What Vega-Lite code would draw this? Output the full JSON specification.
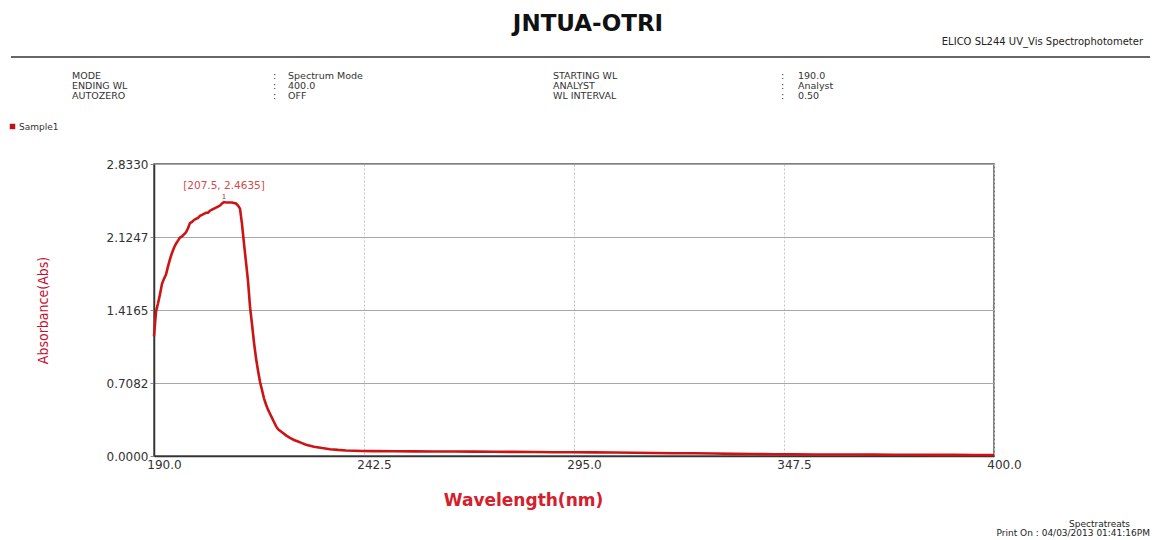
{
  "$schema": "https://vega.github.io/schema/vega-lite/v6.json",
  "autosize": {"type": "none"},
  "padding": {"left": 154, "top": 164, "right": 164, "bottom": 84},
  "width": 840,
  "height": 292,
  "background": "white",
  "title": {
    "text": "JNTUA-OTRI",
    "font": "DejaVu Sans",
    "fontSize": 23,
    "fontWeight": "bold",
    "color": "#111111",
    "anchor": "middle",
    "dx": 14,
    "dy": 3
  },
  "config": {
    "view": {"stroke": "#555555", "strokeWidth": 1.5},
    "axis": {"labelFont": "DejaVu Sans", "titleFont": "DejaVu Sans"}
  },
  "datasets": {
    "spectrum": [
      {"wl": 190, "abs": 1.16}, {"wl": 190.5, "abs": 1.40}, {"wl": 191, "abs": 1.48}, {"wl": 191.5, "abs": 1.57},
      {"wl": 192, "abs": 1.67}, {"wl": 192.5, "abs": 1.72}, {"wl": 193, "abs": 1.76}, {"wl": 193.5, "abs": 1.84},
      {"wl": 194, "abs": 1.91}, {"wl": 194.5, "abs": 1.97}, {"wl": 195, "abs": 2.02}, {"wl": 195.5, "abs": 2.06},
      {"wl": 196, "abs": 2.09}, {"wl": 196.5, "abs": 2.12}, {"wl": 197, "abs": 2.13}, {"wl": 197.5, "abs": 2.15},
      {"wl": 198, "abs": 2.17}, {"wl": 198.5, "abs": 2.21}, {"wl": 199, "abs": 2.26}, {"wl": 199.5, "abs": 2.27},
      {"wl": 200, "abs": 2.29}, {"wl": 200.5, "abs": 2.30}, {"wl": 201, "abs": 2.31}, {"wl": 201.5, "abs": 2.33},
      {"wl": 202, "abs": 2.34}, {"wl": 202.5, "abs": 2.35}, {"wl": 203, "abs": 2.36}, {"wl": 203.5, "abs": 2.36},
      {"wl": 204, "abs": 2.38}, {"wl": 204.5, "abs": 2.39}, {"wl": 205, "abs": 2.40}, {"wl": 205.5, "abs": 2.41},
      {"wl": 206, "abs": 2.42}, {"wl": 206.5, "abs": 2.43}, {"wl": 207, "abs": 2.45}, {"wl": 207.5, "abs": 2.4635},
      {"wl": 208, "abs": 2.46}, {"wl": 208.5, "abs": 2.46}, {"wl": 209, "abs": 2.46}, {"wl": 209.5, "abs": 2.46},
      {"wl": 210, "abs": 2.455}, {"wl": 210.5, "abs": 2.45}, {"wl": 211, "abs": 2.43}, {"wl": 211.5, "abs": 2.40},
      {"wl": 212, "abs": 2.25}, {"wl": 212.5, "abs": 2.06}, {"wl": 213, "abs": 1.88}, {"wl": 213.5, "abs": 1.70},
      {"wl": 214, "abs": 1.45}, {"wl": 214.5, "abs": 1.28}, {"wl": 215, "abs": 1.10}, {"wl": 215.5, "abs": 0.95},
      {"wl": 216, "abs": 0.83}, {"wl": 216.5, "abs": 0.72}, {"wl": 217, "abs": 0.64}, {"wl": 217.5, "abs": 0.56},
      {"wl": 218, "abs": 0.50}, {"wl": 218.5, "abs": 0.45}, {"wl": 219, "abs": 0.41}, {"wl": 219.5, "abs": 0.37},
      {"wl": 220, "abs": 0.33}, {"wl": 220.5, "abs": 0.29}, {"wl": 221, "abs": 0.26}, {"wl": 222, "abs": 0.23},
      {"wl": 223, "abs": 0.20}, {"wl": 224, "abs": 0.175}, {"wl": 225, "abs": 0.155}, {"wl": 226, "abs": 0.14},
      {"wl": 227, "abs": 0.125}, {"wl": 228, "abs": 0.11}, {"wl": 230, "abs": 0.09}, {"wl": 232, "abs": 0.077},
      {"wl": 234, "abs": 0.066}, {"wl": 236, "abs": 0.059}, {"wl": 238, "abs": 0.054}, {"wl": 240, "abs": 0.051},
      {"wl": 242, "abs": 0.049}, {"wl": 245, "abs": 0.047}, {"wl": 250, "abs": 0.046}, {"wl": 255, "abs": 0.045},
      {"wl": 260, "abs": 0.044}, {"wl": 265, "abs": 0.043}, {"wl": 270, "abs": 0.042}, {"wl": 275, "abs": 0.041},
      {"wl": 280, "abs": 0.040}, {"wl": 285, "abs": 0.039}, {"wl": 290, "abs": 0.037}, {"wl": 295, "abs": 0.036},
      {"wl": 300, "abs": 0.035}, {"wl": 305, "abs": 0.034}, {"wl": 310, "abs": 0.031}, {"wl": 315, "abs": 0.029},
      {"wl": 320, "abs": 0.027}, {"wl": 325, "abs": 0.026}, {"wl": 330, "abs": 0.024}, {"wl": 335, "abs": 0.021},
      {"wl": 340, "abs": 0.019}, {"wl": 345, "abs": 0.017}, {"wl": 350, "abs": 0.016}, {"wl": 355, "abs": 0.015},
      {"wl": 360, "abs": 0.014}, {"wl": 365, "abs": 0.015}, {"wl": 370, "abs": 0.013}, {"wl": 375, "abs": 0.012},
      {"wl": 380, "abs": 0.012}, {"wl": 385, "abs": 0.011}, {"wl": 390, "abs": 0.011}, {"wl": 395, "abs": 0.010},
      {"wl": 400, "abs": 0.010}
    ],
    "peaks": [
      {"wl": 207.5, "abs": 2.4635, "label": "[207.5, 2.4635]", "peak": "1"}
    ],
    "settings": [
      {"row": "r1", "col": "c1", "key": "MODE", "value": "Spectrum Mode"},
      {"row": "r2", "col": "c1", "key": "ENDING WL", "value": "400.0"},
      {"row": "r3", "col": "c1", "key": "AUTOZERO", "value": "OFF"},
      {"row": "r1", "col": "c2", "key": "STARTING WL", "value": "190.0"},
      {"row": "r2", "col": "c2", "key": "ANALYST", "value": "Analyst"},
      {"row": "r3", "col": "c2", "key": "WL INTERVAL", "value": "0.50"}
    ],
    "instrument": [
      {"slot": "maker", "text": "ELICO SL244 UV_Vis Spectrophotometer"}
    ],
    "separator": [
      {"from": "page-left", "to": "page-right", "line": "header"}
    ],
    "footer": [
      {"line": "credit", "text": "Spectratreats"},
      {"line": "printed", "text": "Print On : 04/03/2013 01:41:16PM"}
    ]
  },
  "resolve": {"scale": {"x": "independent", "y": "independent", "color": "independent"}},
  "layer": [
    {
      "data": {"name": "spectrum"},
      "transform": [{"calculate": "'Sample1'", "as": "sample"}],
      "mark": {"type": "line", "strokeWidth": 2.6, "interpolate": "linear"},
      "encoding": {
        "x": {
          "field": "wl", "type": "quantitative",
          "scale": {"domain": [190, 400], "nice": false, "zero": false},
          "axis": {
            "values": [190, 242.5, 295, 347.5, 400],
            "format": ".1f",
            "labelFontSize": 12,
            "labelColor": "#333333",
            "labelFlush": false,
            "labelOffset": 10,
            "labelPadding": 3,
            "ticks": false,
            "domainColor": "#333333",
            "domainWidth": 1.5,
            "grid": true,
            "gridColor": "#c4c4c4",
            "gridDash": [2, 2],
            "title": "Wavelength(nm)",
            "titleColor": "#d4202a",
            "titleFontSize": 17,
            "titleFontWeight": "bold",
            "titleX": 369,
            "titleY": 44,
            "titleBaseline": "middle"
          }
        },
        "y": {
          "field": "abs", "type": "quantitative",
          "scale": {"domain": [0, 2.833], "nice": false},
          "axis": {
            "values": [0, 0.7082, 1.4165, 2.1247, 2.833],
            "format": ".4f",
            "labelFontSize": 12,
            "labelColor": "#333333",
            "labelFlush": false,
            "labelPadding": 2,
            "tickSize": 4,
            "tickColor": "#888888",
            "domainColor": "#333333",
            "domainWidth": 1.5,
            "grid": true,
            "gridColor": "#a8a8a8",
            "title": "Absorbance(Abs)",
            "titleFont": "DejaVu Sans Condensed, Liberation Sans, sans-serif",
            "titleFontWeight": "normal",
            "titleFontSize": 14,
            "titleColor": "#c8102e",
            "titleAngle": 270,
            "titleX": -111,
            "titleY": 146,
            "titleAlign": "center",
            "titleBaseline": "middle"
          }
        },
        "color": {
          "field": "sample", "type": "nominal",
          "scale": {"range": ["#cc1414"]},
          "legend": {
            "title": null,
            "orient": "none",
            "legendX": -146,
            "legendY": -42,
            "symbolType": "square",
            "symbolSize": 30,
            "symbolFillColor": "#c0101a",
            "symbolStrokeWidth": 0,
            "labelFont": "DejaVu Sans",
            "labelFontSize": 9,
            "labelColor": "#333333",
            "labelOffset": 2
          }
        }
      }
    },
    {
      "data": {"name": "peaks"},
      "mark": {"type": "text", "font": "DejaVu Sans", "fontSize": 10.5, "color": "#d24a4a", "dy": -16, "baseline": "middle"},
      "encoding": {
        "x": {"field": "wl", "type": "quantitative", "scale": {"domain": [190, 400], "nice": false, "zero": false}, "axis": null},
        "y": {"field": "abs", "type": "quantitative", "scale": {"domain": [0, 2.833], "nice": false}, "axis": null},
        "text": {"field": "label"}
      }
    },
    {
      "data": {"name": "peaks"},
      "mark": {"type": "text", "font": "DejaVu Sans", "fontSize": 7, "color": "#b03030", "dy": -5, "baseline": "middle"},
      "encoding": {
        "x": {"field": "wl", "type": "quantitative", "scale": {"domain": [190, 400], "nice": false, "zero": false}, "axis": null},
        "y": {"field": "abs", "type": "quantitative", "scale": {"domain": [0, 2.833], "nice": false}, "axis": null},
        "text": {"field": "peak"}
      }
    },
    {
      "data": {"name": "settings"},
      "mark": {"type": "text", "font": "DejaVu Sans", "fontSize": 9.5, "color": "#333333", "align": "left", "baseline": "middle"},
      "encoding": {
        "x": {"field": "col", "type": "nominal", "scale": {"type": "point", "domain": ["c1", "c2"], "range": [-82, 399], "padding": 0}, "axis": null},
        "y": {"field": "row", "type": "nominal", "scale": {"type": "point", "domain": ["r1", "r2", "r3"], "range": [-88, -68], "padding": 0}, "axis": null},
        "text": {"field": "key"}
      }
    },
    {
      "data": {"name": "settings"},
      "mark": {"type": "text", "font": "DejaVu Sans", "fontSize": 9.5, "color": "#333333", "align": "left", "baseline": "middle"},
      "encoding": {
        "x": {"field": "col", "type": "nominal", "scale": {"type": "point", "domain": ["c1", "c2"], "range": [119, 627], "padding": 0}, "axis": null},
        "y": {"field": "row", "type": "nominal", "scale": {"type": "point", "domain": ["r1", "r2", "r3"], "range": [-88, -68], "padding": 0}, "axis": null},
        "text": {"value": ":"}
      }
    },
    {
      "data": {"name": "settings"},
      "mark": {"type": "text", "font": "DejaVu Sans", "fontSize": 9.5, "color": "#333333", "align": "left", "baseline": "middle"},
      "encoding": {
        "x": {"field": "col", "type": "nominal", "scale": {"type": "point", "domain": ["c1", "c2"], "range": [134, 644], "padding": 0}, "axis": null},
        "y": {"field": "row", "type": "nominal", "scale": {"type": "point", "domain": ["r1", "r2", "r3"], "range": [-88, -68], "padding": 0}, "axis": null},
        "text": {"field": "value"}
      }
    },
    {
      "data": {"name": "instrument"},
      "mark": {"type": "text", "font": "DejaVu Sans", "fontSize": 10, "color": "#222222", "align": "right", "baseline": "middle"},
      "encoding": {
        "x": {"field": "slot", "type": "nominal", "scale": {"type": "point", "domain": ["maker"], "range": [989, 989], "padding": 0}, "axis": null},
        "y": {"field": "slot", "type": "nominal", "scale": {"type": "point", "domain": ["maker"], "range": [-122, -122], "padding": 0}, "axis": null},
        "text": {"field": "text"}
      }
    },
    {
      "data": {"name": "separator"},
      "mark": {"type": "rule", "color": "#666666", "strokeWidth": 2},
      "encoding": {
        "x": {"field": "from", "type": "nominal", "scale": {"type": "point", "domain": ["page-left", "page-right"], "range": [-143, 996], "padding": 0}, "axis": null},
        "x2": {"field": "to"},
        "y": {"field": "line", "type": "nominal", "scale": {"type": "point", "domain": ["header"], "range": [-107, -107], "padding": 0}, "axis": null}
      }
    },
    {
      "data": {"name": "footer"},
      "mark": {"type": "text", "font": "DejaVu Sans", "fontSize": 9, "color": "#222222", "align": "right", "baseline": "middle"},
      "encoding": {
        "x": {"field": "line", "type": "nominal", "scale": {"type": "point", "domain": ["credit", "printed"], "range": [976, 996], "padding": 0}, "axis": null},
        "y": {"field": "line", "type": "nominal", "scale": {"type": "point", "domain": ["credit", "printed"], "range": [360, 369], "padding": 0}, "axis": null},
        "text": {"field": "text"}
      }
    }
  ]
}
